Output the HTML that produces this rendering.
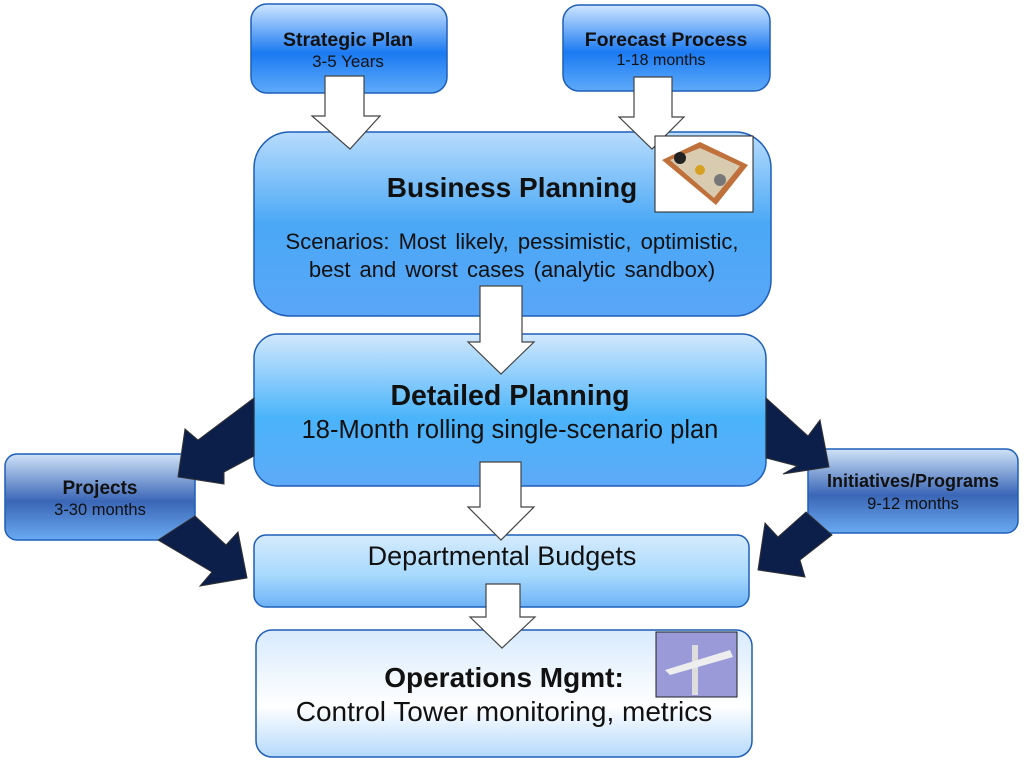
<!DOCTYPE html>
<html><head><style>
html,body{margin:0;padding:0;background:#fff;width:1024px;height:765px;overflow:hidden}
svg text{font-family:"Liberation Sans",Arial,sans-serif;fill:#111}
</style></head><body>
<svg width="1024" height="765" viewBox="0 0 1024 765" xmlns="http://www.w3.org/2000/svg">
<defs>
<linearGradient id="gTop" x1="0" y1="0" x2="0" y2="1">
<stop offset="0" stop-color="#cfe6ff"/><stop offset="0.55" stop-color="#1b7af2"/><stop offset="1" stop-color="#5eaaf9"/></linearGradient>
<linearGradient id="gBP" x1="0" y1="0" x2="0" y2="1">
<stop offset="0" stop-color="#b8dcfc"/><stop offset="0.5" stop-color="#4aa8f6"/><stop offset="1" stop-color="#5aa6f8"/></linearGradient>
<linearGradient id="gDP" x1="0" y1="0" x2="0" y2="1">
<stop offset="0" stop-color="#d2e8fd"/><stop offset="0.55" stop-color="#4ab4fa"/><stop offset="1" stop-color="#5eaaf8"/></linearGradient>
<linearGradient id="gSide" x1="0" y1="0" x2="0" y2="1">
<stop offset="0" stop-color="#cfe2f8"/><stop offset="0.55" stop-color="#3a66b6"/><stop offset="1" stop-color="#6aaaf2"/></linearGradient>
<linearGradient id="gDB" x1="0" y1="0" x2="0" y2="1">
<stop offset="0" stop-color="#d6ebfd"/><stop offset="0.55" stop-color="#a8dafd"/><stop offset="1" stop-color="#6cb2f6"/></linearGradient>
<linearGradient id="gOP" x1="0" y1="0" x2="0" y2="1">
<stop offset="0" stop-color="#d8eafd"/><stop offset="0.6" stop-color="#ffffff"/><stop offset="1" stop-color="#b5d9fb"/></linearGradient>
</defs>
<g stroke="#1f5fb8" stroke-width="1.5">
<rect x="251" y="4" width="196" height="89" rx="16" fill="url(#gTop)"/>
<rect x="563" y="5" width="207" height="86" rx="16" fill="url(#gTop)"/>
<rect x="254" y="132" width="517" height="184" rx="36" fill="url(#gBP)"/>
<rect x="254" y="334" width="512" height="152" rx="24" fill="url(#gDP)"/>
<rect x="5" y="454" width="190" height="86" rx="12" fill="url(#gSide)"/>
<rect x="808" y="449" width="210" height="84" rx="12" fill="url(#gSide)"/>
<rect x="254" y="535" width="495" height="72" rx="12" fill="url(#gDB)"/>
<rect x="256" y="630" width="496" height="127" rx="16" fill="url(#gOP)"/>
</g>
<g fill="#0c1f4a" stroke="#333" stroke-width="1">
<polygon points="254,398 254,456 224,472 224,484 178,477 185,429 198,440"/>
<polygon points="158,540 195,516 226,545 238,532 247,578 200,586 212,572"/>
<polygon points="766,398 766,458 797,466 783,474 829,467 820,420 808,436"/>
<polygon points="806,512 832,535 800,560 805,577 758,570 765,523 778,537"/>
</g>
<g fill="#fff" stroke="#444" stroke-width="1.2">
<polygon points="325,76 364,76 364,116 380,116 350,149 312,116 325,116"/>
<polygon points="634,77 672,77 672,117 684,117 652,149 619,117 634,117"/>
<polygon points="480,286 522,286 522,342 534,342 501,374 468,342 480,342"/>
<polygon points="480,462 521,462 521,507 534,507 501,540 468,507 480,507"/>
<polygon points="486,584 520,584 520,617 535,617 502,648 470,617 486,617"/>
</g>
<rect x="655" y="136" width="98" height="76" fill="#fff" stroke="#222"/>
<polygon points="662,160 700,142 748,165 716,205" fill="#c0703a"/>
<polygon points="670,160 700,148 740,166 714,198" fill="#d8cbb0"/>
<circle cx="680" cy="158" r="6" fill="#222"/><circle cx="700" cy="170" r="5" fill="#d8a020"/><circle cx="720" cy="180" r="6" fill="#777"/>
<rect x="656" y="632" width="81" height="65" fill="#9a9ad8" stroke="#222"/>
<rect x="692" y="645" width="6" height="50" fill="#ddd"/>
<polygon points="665,670 730,650 733,657 670,675" fill="#eee"/>
<text x="348" y="46" font-size="19.5" font-weight="bold" text-anchor="middle">Strategic Plan</text>
<text x="348" y="67" font-size="17" text-anchor="middle">3-5 Years</text>
<text x="666" y="46" font-size="19.5" font-weight="bold" text-anchor="middle">Forecast Process</text>
<text x="661" y="65" font-size="16" text-anchor="middle">1-18 months</text>
<text x="512" y="197" font-size="28" font-weight="bold" text-anchor="middle">Business Planning</text>
<text x="512" y="249" font-size="22" text-anchor="middle" word-spacing="3">Scenarios:  Most likely,  pessimistic,  optimistic,</text>
<text x="512" y="277" font-size="22" text-anchor="middle" word-spacing="3">best and  worst cases  (analytic  sandbox)</text>
<text x="510" y="405" font-size="28.5" font-weight="bold" text-anchor="middle">Detailed Planning</text>
<text x="510" y="438" font-size="25.5" text-anchor="middle">18-Month rolling single-scenario plan</text>
<text x="100" y="494" font-size="19" font-weight="bold" text-anchor="middle">Projects</text>
<text x="100" y="515" font-size="16.5" text-anchor="middle">3-30 months</text>
<text x="913" y="487" font-size="18" font-weight="bold" text-anchor="middle">Initiatives/Programs</text>
<text x="913" y="509" font-size="16.5" text-anchor="middle">9-12 months</text>
<text x="502" y="565" font-size="27" text-anchor="middle">Departmental Budgets</text>
<text x="504" y="687" font-size="28" font-weight="bold" text-anchor="middle">Operations Mgmt:</text>
<text x="504" y="721" font-size="28" text-anchor="middle">Control Tower monitoring, metrics</text>
</svg>
</body></html>
